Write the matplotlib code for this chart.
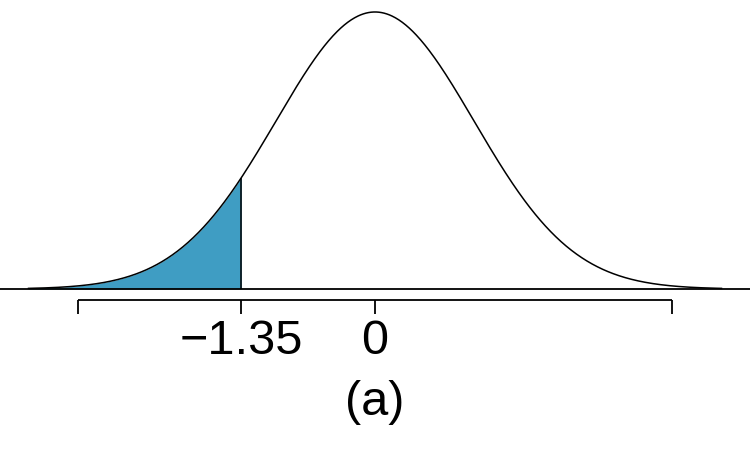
import numpy as np
import matplotlib
matplotlib.use("Agg")
import matplotlib.pyplot as plt

# Parámetros de la distribución normal y del área sombreada
media = 0.0
desv = 1.0
limite_inf = -3.5
limite_sup = 3.5
corte = -1.35

# Marcas del eje inferior
marcas = [-3, -1.35, 0, 3]
etiquetas = ["", "\u22121.35", "0", ""]
titulo = "(a)"

plt.rcParams['font.family'] = ['Liberation Sans', 'DejaVu Sans']

x = np.linspace(limite_inf, limite_sup, 800)
y = np.exp(-0.5 * ((x - media) / desv) ** 2) / (desv * np.sqrt(2 * np.pi))

fig = plt.figure(figsize=(7.5, 4.5), dpi=100)
ax = fig.add_axes([0, 0, 1, 1])
ax.set_xlim(-3.788, 3.788)
ax.set_ylim(-0.2319, 0.4162)
ax.axis('off')

# Cola izquierda sombreada
mascara = x <= corte
x_cola = np.append(x[mascara], corte)
y_cola = np.exp(-0.5 * ((x_cola - media) / desv) ** 2) / (desv * np.sqrt(2 * np.pi))
ax.fill_between(x_cola, 0, y_cola, color='#3F9DC3', linewidth=0)
ax.vlines(corte, 0, y_cola[-1], color='black', lw=1.1)

# Curva y línea base
ax.plot(x, y, color='black', lw=1.1)
ax.axhline(0, color='black', lw=1.3)

# Eje inferior tipo corchete
y_eje = -0.0158
y_tick = -0.0365
ax.hlines(y_eje, marcas[0], marcas[-1], color='black', lw=1.3)
ax.vlines(marcas, y_tick, y_eje, color='black', lw=1.3)
for m, et in zip(marcas, etiquetas):
    ax.text(m, -0.0936, et, ha='center', va='baseline', fontsize=35)

ax.text(media, -0.1815, titulo, ha='center', va='baseline', fontsize=35)

fig.savefig("out.png", dpi=100)
